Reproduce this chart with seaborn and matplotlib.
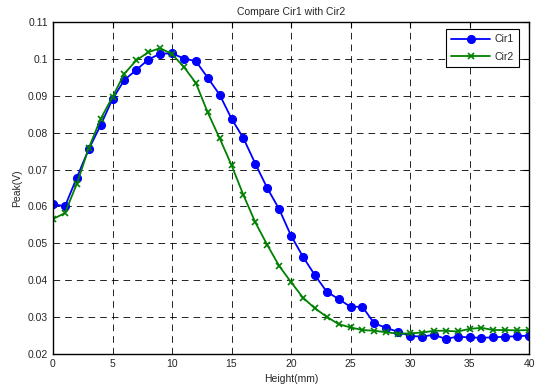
import matplotlib
matplotlib.use("Agg")
import matplotlib.pyplot as plt
import seaborn as sns
import pandas as pd

height = list(range(0, 41))
cir1 = [0.0607, 0.0600, 0.0678, 0.0755, 0.0820, 0.0891, 0.0943, 0.0970, 0.0998, 0.1014,
        0.1015, 0.1001, 0.0994, 0.0949, 0.0903, 0.0838, 0.0785, 0.0716, 0.0650, 0.0593,
        0.0521, 0.0464, 0.0414, 0.0369, 0.0349, 0.0328, 0.0328, 0.0283, 0.0271, 0.0260,
        0.0249, 0.0247, 0.0252, 0.0241, 0.0247, 0.0245, 0.0244, 0.0245, 0.0247, 0.0248,
        0.0250]
cir2 = [0.0566, 0.0582, 0.0661, 0.0758, 0.0837, 0.0897, 0.0960, 0.0996, 0.1018, 0.1029,
        0.1013, 0.0978, 0.0935, 0.0855, 0.0785, 0.0712, 0.0631, 0.0557, 0.0496, 0.0439,
        0.0395, 0.0353, 0.0324, 0.0301, 0.0281, 0.0272, 0.0265, 0.0263, 0.0259, 0.0255,
        0.0256, 0.0258, 0.0263, 0.0263, 0.0261, 0.0268, 0.0271, 0.0265, 0.0265, 0.0264,
        0.0265]
xticks = [0, 5, 10, 15, 20, 25, 30, 35, 40]
yticks = [0.02, 0.03, 0.04, 0.05, 0.06, 0.07, 0.08, 0.09, 0.1, 0.11]
ytick_labels = ["0.02", "0.03", "0.04", "0.05", "0.06", "0.07", "0.08", "0.09", "0.1", "0.11"]

sns.set_style("white")
plt.rcParams['font.family'] = ['Liberation Sans', 'DejaVu Sans']

df = pd.DataFrame({"Height": height, "Cir1": cir1, "Cir2": cir2})

fig = plt.figure(figsize=(5.34, 3.9), dpi=100)
ax = fig.add_axes([53/534, 1 - 354/390, (529 - 53)/534, (354 - 22)/390])

sns.lineplot(data=df, x="Height", y="Cir1", ax=ax, color="#0000ff", marker="o",
             markersize=5.8, markeredgecolor="#0000ff", linewidth=1.3, label="Cir1")
sns.lineplot(data=df, x="Height", y="Cir2", ax=ax, color="#008000", marker="x",
             markersize=4.5, markeredgecolor="#008000", markeredgewidth=1.2, linewidth=1.3, label="Cir2")

ax.set_xlim(0, 40)
ax.set_ylim(0.02, 0.11)
ax.set_xticks(xticks)
ax.set_xticklabels([str(t) for t in xticks])
ax.set_yticks(yticks)
ax.set_yticklabels(ytick_labels)
ax.grid(True, color="black", linestyle=(0, (8, 6)), linewidth=0.6)
ax.tick_params(direction="in", length=4, labelsize=7.5, color="black", top=True, right=True)
for s in ax.spines.values():
    s.set_color("black")
    s.set_linewidth(1.0)
ax.set_xlabel("Height(mm)", fontsize=7.5)
ax.set_ylabel("Peak(V)", fontsize=7.5)
ax.set_title("Compare Cir1 with Cir2", fontsize=7.5, pad=5)

leg = ax.legend(loc="upper right", bbox_to_anchor=(519/534, 1 - 29/390),
                bbox_transform=fig.transFigure, borderaxespad=0,
                fontsize=7.5, frameon=True, fancybox=False,
                edgecolor="black", framealpha=1, handlelength=3.8,
                handletextpad=0.4, borderpad=0.5, labelspacing=0.7)
leg.get_frame().set_linewidth(0.8)

fig.savefig("out.png", dpi=100)
